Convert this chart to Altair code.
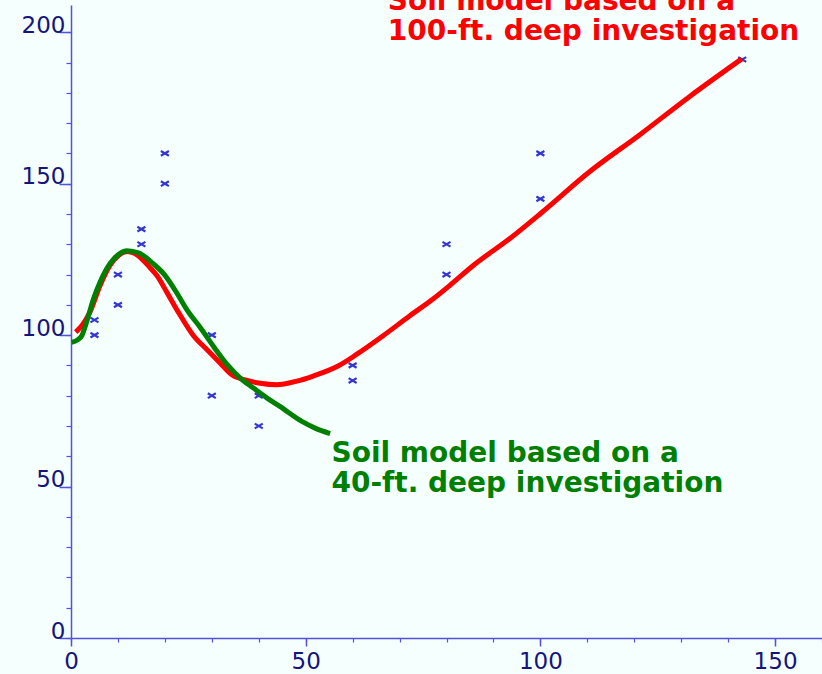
import altair as alt
import pandas as pd

# Measured apparent resistivity vs. probe spacing
spacing = [5, 5, 10, 10, 15, 15, 20, 20, 30, 30, 40, 40, 60, 60, 80, 80, 100, 100, 143]
resistivity = [105, 100, 120, 110, 135, 130, 160, 150, 100, 80, 80, 70, 90, 85, 130, 120, 160, 145, 191]

# Soil model curve from the 100-ft deep investigation
deep_x = [1.0, 2.5, 4.0, 6.2, 8.3, 10.1, 12.0, 13.5, 15.4, 17.0, 18.3, 20.4, 22.9, 26.1,
          28.9, 31.7, 34.2, 37.1, 40.3, 43.8, 48.1, 51.6, 56.9, 60.9, 66.5, 72.2, 77.2,
          80.7, 85.7, 93.5, 100.3, 110.6, 121.2, 131.9, 142.9]
deep_y = [101.0, 103.5, 107.5, 116.4, 123.0, 126.3, 127.6, 127.0, 124.7, 122.0, 119.7,
          114.2, 107.5, 99.8, 95.3, 90.9, 87.0, 85.2, 84.1, 83.6, 84.8, 86.5, 89.8, 93.7,
          99.8, 106.4, 112.0, 116.4, 123.0, 131.9, 140.5, 154.1, 166.2, 178.9, 191.2]

# Soil model curve from the 40-ft deep investigation
shallow_x = [0.15, 1.5, 2.3, 3.3, 4.8, 6.2, 7.6, 9.2, 11.9, 14.5, 17.5, 19.9, 22.9, 24.6,
             27.5, 30.3, 33.2, 36.0, 38.8, 41.7, 44.5, 49.2, 52.0, 55.2]
shallow_y = [97.6, 98.5, 99.8, 104.2, 112.0, 117.5, 121.9, 125.3, 127.9, 127.1, 123.6,
             120.0, 113.0, 108.6, 102.6, 96.4, 90.4, 85.9, 82.6, 79.3, 76.5, 71.5, 69.3, 67.5]

# Annotation labels
label_x = [67.5, 67.5, 55.5, 55.5]
label_y = [207.3, 197.4, 58.1, 48.2]
label_text = ["Soil model based on a", "100-ft. deep investigation",
              "Soil model based on a", "40-ft. deep investigation"]
label_color = ["#ff0000", "#ff0000", "#008000", "#008000"]

BG = "#f5fffe"
AXIS = "#5252dc"
NAVY = "#14147c"
FONT = "DejaVu Sans"

pts_df = pd.DataFrame({"spacing": spacing, "rho": resistivity})
deep_df = pd.DataFrame({"x": deep_x, "y": deep_y})
shallow_df = pd.DataFrame({"x": shallow_x, "y": shallow_y})
lab_df = pd.DataFrame({"x": label_x, "y": label_y, "t": label_text, "c": label_color})

xs = alt.Scale(domain=[0, 160], nice=False, zero=False)
ys = alt.Scale(domain=[0, 209], nice=False, zero=False)

x_major = alt.Axis(values=[0, 50, 100, 150], orient="bottom", title="", grid=False,
                   tickSize=8, tickWidth=1.5, tickColor=AXIS, domainColor=AXIS,
                   domainWidth=1.5, labelPadding=4, labelFont=FONT, labelFontSize=23,
                   labelColor=NAVY, labelFlush=False, labelOverlap=False)
x_minor = alt.Axis(values=list(range(0, 161, 10)), orient="bottom", title="", grid=False,
                   tickSize=4, tickWidth=1.2, tickColor=AXIS, domain=False, labels=False)
y_major = alt.Axis(values=[0, 50, 100, 150, 200], orient="left", title="", grid=False,
                   tickSize=12, tickWidth=1.5, tickColor=AXIS, domainColor=AXIS,
                   domainWidth=1.5, labelPadding=-6, labelBaseline="alphabetic",
                   labelFont=FONT, labelFontSize=23, labelColor=NAVY,
                   labelFlush=False, labelOverlap=False)
y_minor = alt.Axis(values=list(range(0, 210, 10)), orient="left", title="", grid=False,
                   tickSize=5, tickWidth=1.2, tickColor=AXIS, domain=False, labels=False)

points = alt.Chart(pts_df).mark_point(
    shape="M-1,-0.6L1,0.6M-1,0.6L1,-0.6", filled=False, size=64,
    strokeWidth=2.2, color="#3535d0", opacity=1
).encode(
    x=alt.X("spacing:Q", scale=xs, axis=x_major),
    y=alt.Y("rho:Q", scale=ys, axis=y_major),
)

deep = alt.Chart(deep_df).mark_line(
    color="#ff0000", strokeWidth=5, interpolate="monotone"
).encode(
    x=alt.X("x:Q", scale=xs, axis=x_minor),
    y=alt.Y("y:Q", scale=ys, axis=y_minor),
)

shallow = alt.Chart(shallow_df).mark_line(
    color="#008000", strokeWidth=5, interpolate="monotone"
).encode(
    x=alt.X("x:Q", scale=xs, axis=None),
    y=alt.Y("y:Q", scale=ys, axis=None),
)

labels = alt.Chart(lab_df).mark_text(
    align="left", baseline="alphabetic", font=FONT, fontWeight="bold", fontSize=28
).encode(
    x=alt.X("x:Q", scale=xs, axis=None),
    y=alt.Y("y:Q", scale=ys, axis=None),
    text="t:N",
    color=alt.Color("c:N", scale=None),
)

chart = alt.layer(points, deep, shallow, labels).resolve_axis(
    x="independent", y="independent"
).properties(
    width=751,
    height=633,
    padding={"left": 71, "top": 5, "right": 0, "bottom": 36},
    autosize=alt.AutoSizeParams(type="none"),
    background=BG,
).configure_view(strokeWidth=0)

chart.save("out.html", embed_options={"renderer": "svg", "actions": False})
